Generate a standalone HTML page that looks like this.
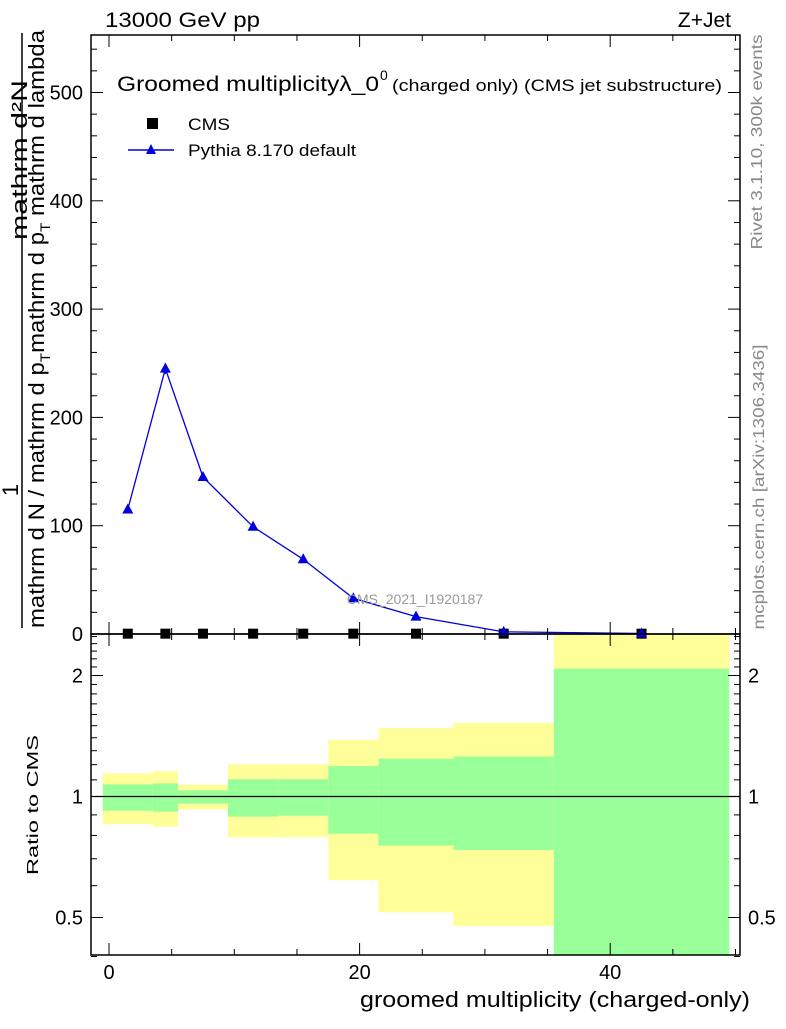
<!DOCTYPE html>
<html><head><meta charset="utf-8"><style>
body{margin:0;background:#fff;}
svg text{font-family:"Liberation Sans",sans-serif;}
</style></head><body>
<svg id="c" width="786" height="1024" xmlns="http://www.w3.org/2000/svg">
<g id="bands"></g>
<g id="main"></g>
<g id="axes"></g>
<text x="105" y="27" font-size="21" textLength="155" lengthAdjust="spacingAndGlyphs">13000 GeV pp</text>
<text x="731" y="27" font-size="21" text-anchor="end">Z+Jet</text>
<g>
<text x="117" y="91" font-size="21" textLength="262" lengthAdjust="spacingAndGlyphs">Groomed multiplicityλ_0</text>
<text x="380" y="80" font-size="14">0</text>
<text x="392" y="91" font-size="17" textLength="330" lengthAdjust="spacingAndGlyphs">(charged only) (CMS jet substructure)</text>
</g>
<rect x="147" y="118" width="11" height="11" fill="#000"/>
<text x="188" y="130" font-size="17" textLength="42" lengthAdjust="spacingAndGlyphs">CMS</text>
<line x1="128" y1="150" x2="174" y2="150" stroke="#0000dd" stroke-width="1.5"/>
<polygon points="151,144 146,154 156,154" fill="#0000dd"/>
<text x="188" y="156" font-size="17" textLength="168" lengthAdjust="spacingAndGlyphs">Pythia 8.170 default</text>
<text x="415" y="604" font-size="14" fill="#999" text-anchor="middle">CMS_2021_I1920187</text>
<text transform="translate(762,142) rotate(-90)" font-size="16" fill="#888" text-anchor="middle" textLength="215" lengthAdjust="spacingAndGlyphs">Rivet 3.1.10,  300k events</text>
<text transform="translate(764,487) rotate(-90)" font-size="16" fill="#888" text-anchor="middle" textLength="285" lengthAdjust="spacingAndGlyphs">mcplots.cern.ch [arXiv:1306.3436]</text>
<g>
<text transform="translate(18,490) rotate(-90)" font-size="22" text-anchor="middle">1</text>
<text transform="translate(27,160) rotate(-90)" font-size="22" text-anchor="middle" textLength="160" lengthAdjust="spacingAndGlyphs">mathrm d²N</text>
<line x1="22" y1="628" x2="22" y2="33" stroke="#000" stroke-width="1.5"/>
<text transform="translate(44,329) rotate(-90)" font-size="22" text-anchor="middle" textLength="598" lengthAdjust="spacingAndGlyphs">mathrm d N / mathrm d p<tspan dy="6" font-size="14">T</tspan><tspan dy="-6">mathrm d p</tspan><tspan dy="6" font-size="14">T</tspan><tspan dy="-6"> mathrm d lambda</tspan></text>
</g>
<text transform="translate(38,805) rotate(-90)" font-size="16" text-anchor="middle" textLength="140" lengthAdjust="spacingAndGlyphs">Ratio to CMS</text>
<text x="750" y="1007" font-size="22" text-anchor="end" textLength="390" lengthAdjust="spacingAndGlyphs">groomed multiplicity (charged-only)</text>
</svg>
<script>
const binEdges=[-0.5,3.5,5.5,9.5,13.5,17.5,21.5,27.5,35.5,49.5];
const binCenters=[1.5,4.5,7.5,11.5,15.5,19.5,24.5,31.5,42.5];
const pythiaValues=[115,245,145,99,69,33,16,2,0.5];
const pythiaErr=[2,5,2,1,1,1,0.5,0.3,0.2];
const cmsValues=[0.3,0.3,0.3,0.3,0.3,0.3,0.3,0.3,0.3];
const yellowUp=[1.142,1.155,1.070,1.203,1.203,1.382,1.479,1.525,3];
const yellowDn=[0.854,0.841,0.929,0.791,0.793,0.619,0.515,0.476,0.2];
const greenUp=[1.072,1.078,1.036,1.104,1.104,1.190,1.241,1.257,2.08];
const greenDn=[0.922,0.917,0.960,0.891,0.896,0.808,0.755,0.736,0.3];
const yTicks=[0,100,200,300,400,500];
const xTicks=[0,20,40];
const rTicks=[0.5,1,2];
const NS='http://www.w3.org/2000/svg';
const L=91,R=740,T=35,MB=634,RB=955;
const X=v=>109+(v)*12.53;
const Y=v=>634-v*1.083;
const RY=v=>796.5-Math.log10(v)*402;
function mk(p,tag,a){const e=document.createElementNS(NS,tag);for(const k in a)e.setAttribute(k,a[k]);p.appendChild(e);return e;}
const bands=document.getElementById('bands'),main=document.getElementById('main'),axes=document.getElementById('axes');
const clip=v=>Math.max(MB,Math.min(RB,v));
for(let i=0;i<binCenters.length;i++){
 const x0=X(binEdges[i]),x1=X(binEdges[i+1]);
 let y0=clip(RY(yellowUp[i])),y1=clip(RY(yellowDn[i]));
 const yb=mk(bands,'rect',{x:x0,y:y0,width:x1-x0,height:y1-y0,fill:'#ffff99'});
 
 
 y0=clip(RY(greenUp[i]));y1=clip(RY(greenDn[i]));
 const gb=mk(bands,'rect',{x:x0,y:y0,width:x1-x0,height:y1-y0,fill:'#99ff99'});
 
 
}
const rl=mk(bands,'line',{x1:L,x2:R,y1:RY(1),y2:RY(1),stroke:'#000','stroke-width':1.2});


for(let i=0;i<binCenters.length;i++){
 const s=mk(main,'rect',{x:X(binCenters[i])-5,y:Y(cmsValues[i])-5,width:10,height:10,fill:'#000'});
 
 
}
const pl=mk(main,'polyline',{points:binCenters.map((c,i)=>X(c)+','+Y(pythiaValues[i])).join(' '),fill:'none',stroke:'#0000dd','stroke-width':1.3});


for(let i=0;i<binCenters.length;i++){
 const x=X(binCenters[i]),y=Y(pythiaValues[i]);
 mk(main,'line',{x1:x,x2:x,y1:Y(pythiaValues[i]+pythiaErr[i]),y2:Y(pythiaValues[i]-pythiaErr[i]),stroke:'#0000dd','stroke-width':1.3});
 const p=mk(main,'polygon',{points:`${x},${y-6} ${x-5.5},${y+4} ${x+5.5},${y+4}`,fill:'#0000dd'});
 
 
}
const f1=mk(axes,'rect',{x:L,y:T,width:R-L,height:MB-T,fill:'none',stroke:'#000','stroke-width':1.5});


const f2=mk(axes,'rect',{x:L,y:MB,width:R-L,height:RB-MB,fill:'none',stroke:'#000','stroke-width':1.5});


for(let v=0;v<=550;v+=20){const y=Y(v);const len=v%100===0?12:6;
 mk(axes,'line',{x1:L,x2:L+len,y1:y,y2:y,stroke:'#000'});mk(axes,'line',{x1:R,x2:R-len,y1:y,y2:y,stroke:'#000'});}
yTicks.forEach(v=>{const t=mk(axes,'text',{x:L-8,y:Y(v)+7,'font-size':20,'text-anchor':'end'});t.textContent=v;
 
 });
for(let v=0;v<=50;v+=5){const x=X(v);const len=v%20===0?12:6;
 [[T,1],[MB,-1],[MB,1],[RB,-1]].forEach(([y,d])=>mk(axes,'line',{x1:x,x2:x,y1:y,y2:y+d*len,stroke:'#000'}));}
xTicks.forEach(v=>{const t=mk(axes,'text',{x:X(v),y:979,'font-size':20,'text-anchor':'middle'});t.textContent=v;
 
 });
for(let v=0.4;v<=2.5;v=Math.round((v+0.1)*10)/10){const y=RY(v);const len=(v===0.5||v===1||v===2)?12:6;
 mk(axes,'line',{x1:L,x2:L+len,y1:y,y2:y,stroke:'#000'});mk(axes,'line',{x1:R,x2:R-len,y1:y,y2:y,stroke:'#000'});}
rTicks.forEach(v=>{[[L-8,'end'],[R+8,'start']].forEach(([x,a])=>{const t=mk(axes,'text',{x:x,y:RY(v)+7,'font-size':20,'text-anchor':a});t.textContent=v;
 
 });});
</script>
</body></html>
